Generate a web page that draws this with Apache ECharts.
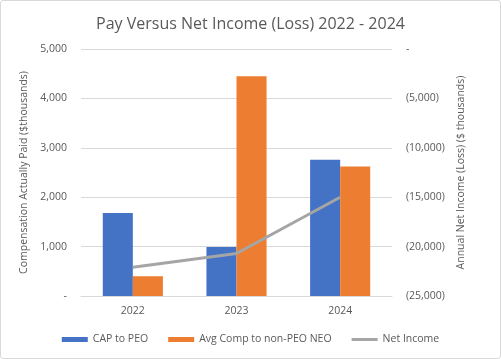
<!DOCTYPE html>
<html><head><meta charset="utf-8">
<script src="https://cdn.jsdelivr.net/npm/echarts@6/dist/echarts.min.js"></script>
<style>html,body{margin:0;padding:0;background:#fff}#c{width:499px;height:357px;border:1px solid #d9d9d9;border-radius:3px}</style>
</head><body><div id="c"></div>
<script>
const categories = ['2022', '2023', '2024'];
const capToPEO = [1680, 990, 2760];
const avgCompNonPEO = [400, 4450, 2620];
const netIncome = [-22100, -20700, -15000];

const fmt = v => v === 0 ? '-' : (v < 0 ? '(' + Math.abs(v).toLocaleString('en-US') + ')' : v.toLocaleString('en-US'));
const txt = '#595959';
const font = 'Open Sans';
const fs = 10.5;
const chart = echarts.init(document.getElementById('c'));
chart.setOption({
  animation: false,
  textStyle: {fontFamily: font, color: txt},
  title: {text: 'Pay Versus Net Income (Loss) 2022 - 2024', left: 'center', top: 10,
    textStyle: {fontFamily: font, fontSize: 16, fontWeight: 'normal', color: txt}},
  grid: {left: 80, right: 108, top: 48, bottom: 62},
  legend: {bottom: 8, left: 'center', itemGap: 20, itemWidth: 26, itemHeight: 5,
    textStyle: {fontFamily: font, fontSize: fs, color: txt},
    data: [{name: 'CAP to PEO', icon: 'rect'}, {name: 'Avg Comp to non-PEO NEO', icon: 'rect'},
           {name: 'Net Income', icon: 'path://M0,0L26,0L26,3L0,3Z'}]},
  xAxis: {type: 'category', data: categories,
    axisLine: {lineStyle: {color: '#d9d9d9'}}, axisTick: {show: false},
    axisLabel: {color: txt, fontSize: fs, margin: 10}},
  yAxis: [
    {type: 'value', min: 0, max: 5000, interval: 1000,
      name: 'Compensation Actually Paid ($thousands)', nameLocation: 'middle', nameGap: 45,
      nameTextStyle: {color: txt, fontSize: fs, fontFamily: font},
      axisLabel: {formatter: fmt, color: txt, fontSize: fs, margin: 14},
      splitLine: {lineStyle: {color: '#d9d9d9'}}, axisLine: {show: false}},
    {type: 'value', min: -25000, max: 0, interval: 5000, position: 'right',
      name: 'Annual Net Income (Loss) ($ thousands)', nameLocation: 'middle', nameGap: 55, nameRotate: 90,
      nameTextStyle: {color: txt, fontSize: fs, fontFamily: font},
      axisLabel: {formatter: fmt, color: txt, fontSize: fs, margin: 14},
      splitLine: {show: false}, axisLine: {show: false}}
  ],
  series: [
    {name: 'CAP to PEO', type: 'bar', data: capToPEO, itemStyle: {color: '#4472c4'}, barGap: '0%', barCategoryGap: '42%'},
    {name: 'Avg Comp to non-PEO NEO', type: 'bar', data: avgCompNonPEO, itemStyle: {color: '#ed7d31'}},
    {name: 'Net Income', type: 'line', yAxisIndex: 1, data: netIncome, symbol: 'none',
      lineStyle: {color: '#a5a5a5', width: 3}, itemStyle: {color: '#a5a5a5'}}
  ]
});
</script></body></html>
